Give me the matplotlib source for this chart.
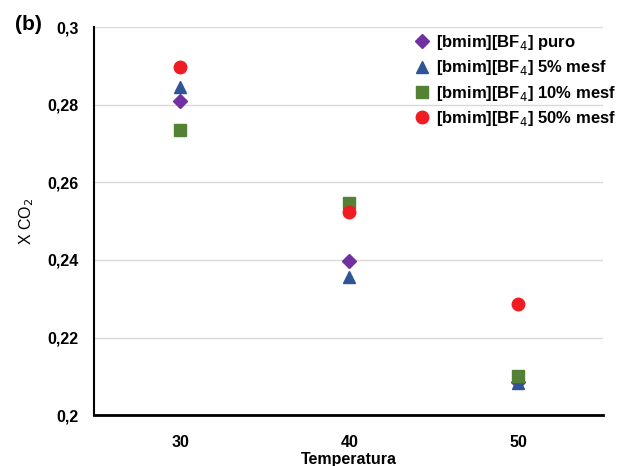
import numpy as np
import matplotlib.pyplot as plt

plt.rcParams['font.family'] = ['Liberation Sans', 'DejaVu Sans']

# data
temps = [30, 40, 50]
puro = [0.2809, 0.2397, 0.2085]
mesf5 = [0.2845, 0.2356, 0.2082]
mesf10 = [0.2735, 0.2546, 0.2101]
mesf50 = [0.2897, 0.2523, 0.2286]

yticks = [0.2, 0.22, 0.24, 0.26, 0.28, 0.3]
ytick_labels = ['0,2', '0,22', '0,24', '0,26', '0,28', '0,3']

fig = plt.figure(figsize=(6.19, 4.66), dpi=100)
ax = fig.add_axes([0.152, 0.109, 0.822, 0.833])

ax.plot(temps, puro, 'D', color='#7030A0', ms=7.5, ls='none', label='[bmim][BF$_4$] puro')
ax.plot(temps, mesf5, '^', color='#2F5597', ms=9, ls='none', label='[bmim][BF$_4$] 5% mesf')
ax.plot(temps, mesf10, 's', color='#548235', ms=8, ls='none', label='[bmim][BF$_4$] 10% mesf')
ax.plot(temps, mesf50, 'o', color='#F01C24', ms=9, ls='none', label='[bmim][BF$_4$] 50% mesf')

ax.set_xlim(24.9, 55.0)
ax.set_ylim(0.2, 0.3)
ax.set_xticks(temps)
ax.set_yticks(yticks)
ax.set_yticklabels(ytick_labels)
ax.tick_params(axis='y', length=0, labelsize=11.5, pad=11)
ax.tick_params(axis='x', length=0, labelsize=11.5, pad=14)
for lab in ax.get_xticklabels() + ax.get_yticklabels():
    lab.set_fontweight('bold')

ax.grid(axis='y', color='#d9d9d9', lw=1)
ax.set_axisbelow(True)
for s in ['top', 'right']:
    ax.spines[s].set_visible(False)
ax.spines['left'].set_linewidth(1.5)
ax.spines['bottom'].set_linewidth(2)

ax.set_xlabel('Temperatura', fontsize=11.5, fontweight='bold', labelpad=2)
ax.set_ylabel('X CO$_2$', fontsize=11.5, labelpad=8)

fig.text(0.024, 0.948, '(b)', fontsize=15, fontweight='bold', va='center')

leg = ax.legend(loc='upper right', bbox_to_anchor=(1.045, 1.01), frameon=False,
                fontsize=12, handletextpad=0.05, labelspacing=0.38, borderaxespad=0.2,
                handlelength=1.6)
for t in leg.get_texts():
    t.set_fontweight('bold')

fig.savefig('out.png', dpi=100)
